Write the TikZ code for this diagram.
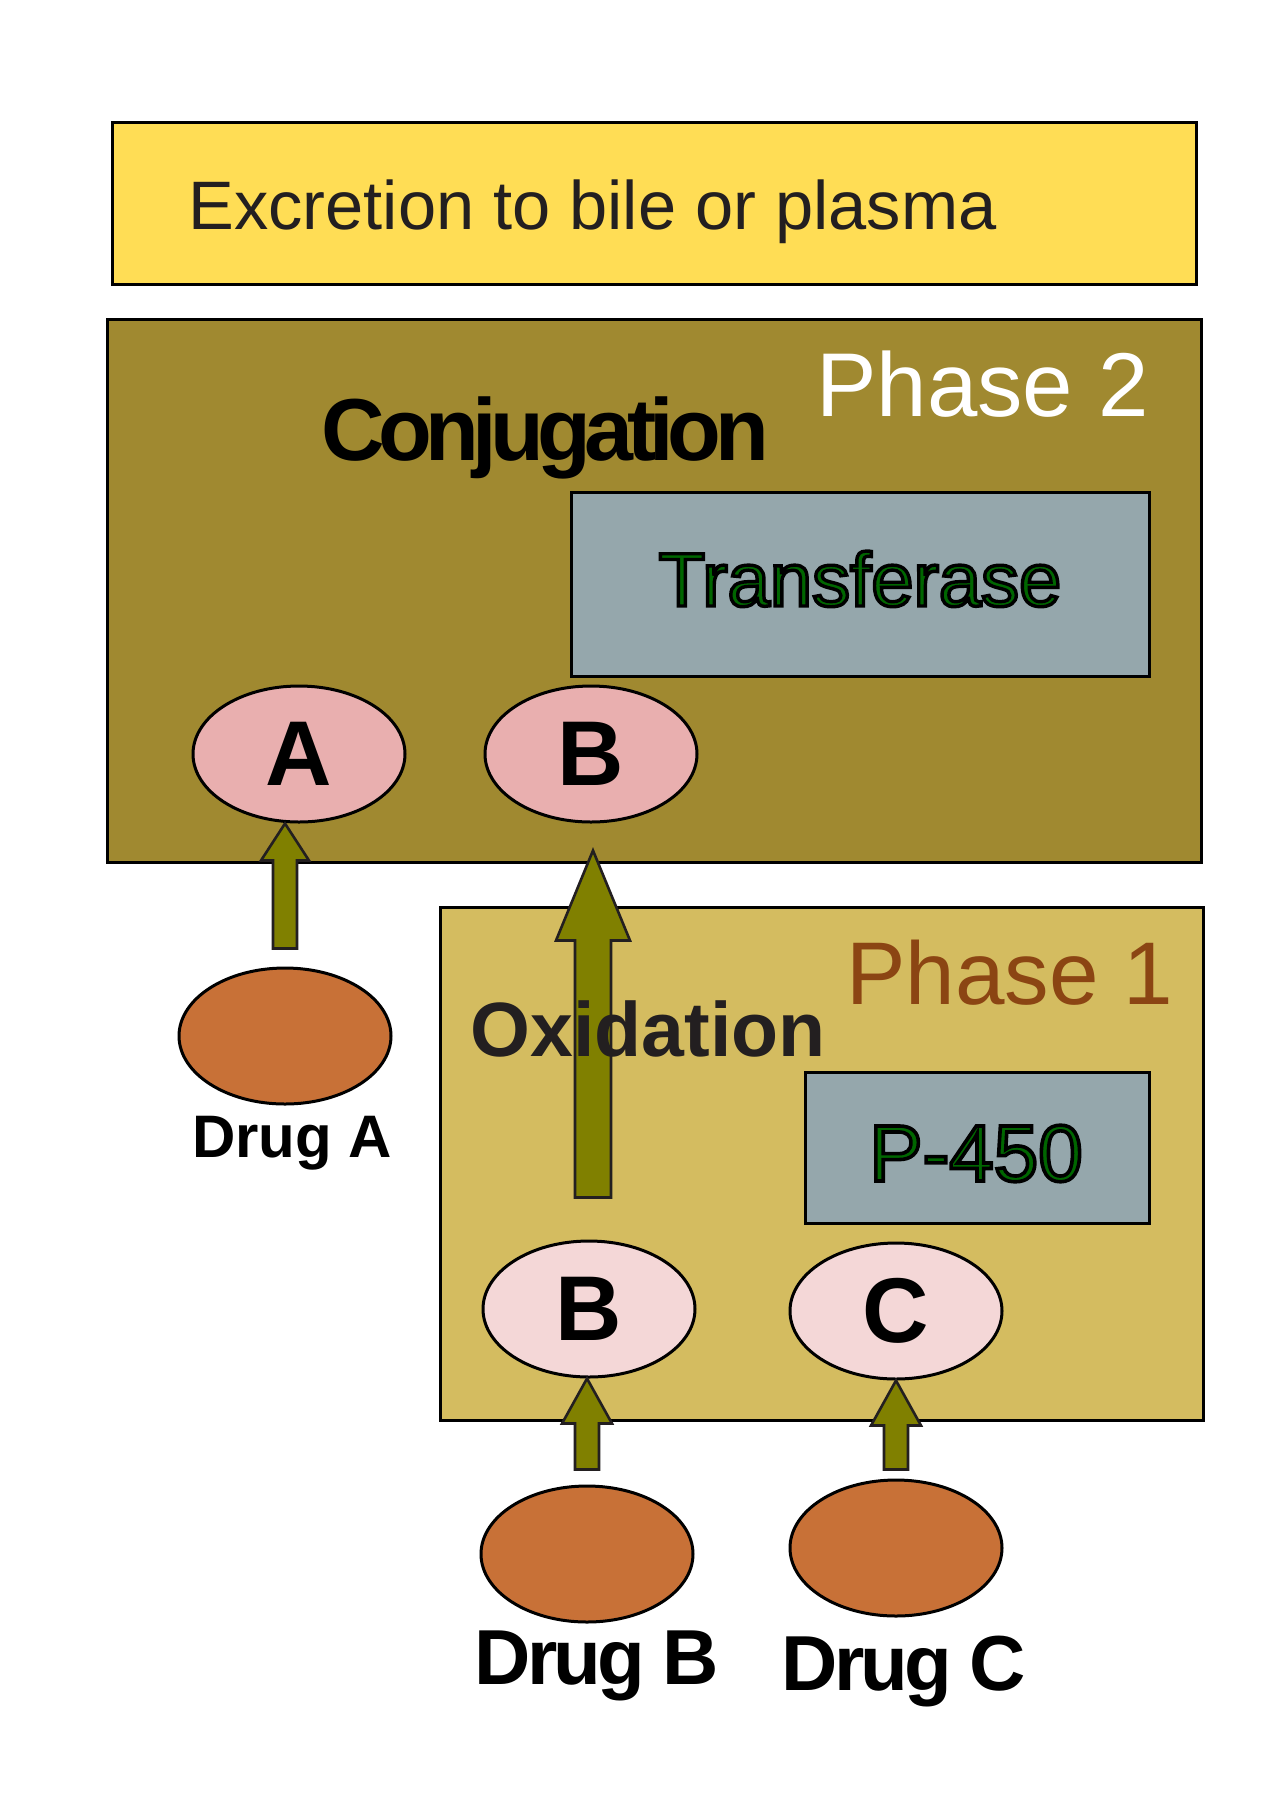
\documentclass[tikz,border=0pt]{standalone}
\usepackage{fontspec}
\setmainfont{Liberation Sans}
\newfontfamily\enzfont[FakeBold=4.5]{Liberation Sans}
\usetikzlibrary{shapes.geometric,calc}

\definecolor{excrfill}{RGB}{255,221,85}
\definecolor{phtwofill}{RGB}{160,137,48}
\definecolor{phonefill}{RGB}{212,188,96}
\definecolor{enzfill}{RGB}{149,167,172}
\definecolor{mettwofill}{RGB}{233,175,175}
\definecolor{metonefill}{RGB}{244,215,215}
\definecolor{drugfill}{RGB}{200,113,55}
\definecolor{arrfill}{RGB}{128,128,0}
\definecolor{darkline}{RGB}{35,31,32}
\definecolor{phonetext}{RGB}{139,69,19}

\newcommand{\outlined}[1]{\special{pdf:bcolor [0 0.4 0] [0 0 0]}#1\special{pdf:ecolor}}
\newcommand{\blockarrow}[5]{\draw[blockarr] ($(#1)+(-#3,0)$) -- ($(#1)+(#3,0)$) -- ($(#2)+(#3,#5)$) -- ($(#2)+(#4,#5)$) -- (#2) -- ($(#2)+(-#4,#5)$) -- ($(#2)+(-#3,#5)$) -- cycle;}

\tikzset{
  box/.style={draw=black,line width=1.5pt,rectangle,inner sep=0pt},
  enzbox/.style={box,fill=enzfill},
  lbl/.style={inner sep=0pt},
  molec/.style={ellipse,draw=black,line width=1.5pt,inner sep=0pt,minimum width=106pt,minimum height=68pt,font=\bfseries\fontsize{46}{50}\selectfont},
  drugmol/.style={molec,fill=drugfill},
  blockarr/.style={draw=darkline,fill=arrfill,line width=1.3pt},
}

\begin{document}
\begin{tikzpicture}[x=0.5pt,y=-0.5pt]
\useasboundingbox (0,0) rectangle (1280,1811);
\node[box,fill=excrfill,minimum width=542pt,minimum height=81pt] (excr) at (654,203) {};
\node[lbl,anchor=base west,text=darkline,font=\fontsize{34.3}{40}\selectfont] (excrtxt) at (188,229) {Excretion to bile or plasma};

% phase 2
\node[box,fill=phtwofill,minimum width=547pt,minimum height=271.5pt] (ph2) at (654,590.5) {};
\node[lbl,anchor=base west,text=white,font=\fontsize{45.3}{50}\selectfont] (ph2txt) at (816,416) {Phase 2};
\node[lbl,anchor=base west,font=\bfseries\fontsize{44}{50}\selectfont\addfontfeature{LetterSpace=-7.5}] (conj) at (321,460) {Conjugation};
\node[enzbox,minimum width=289pt,minimum height=92pt] (trans) at (860,584) {};
\node[lbl,anchor=base,font=\enzfont\fontsize{38}{44}\selectfont] (transtxt) at (860,606) {\outlined{Transferase}};
\node[molec,fill=mettwofill] (mA) at (299,754) {A};
\node[molec,fill=mettwofill] (mB2) at (591,754) {B};

% phase 1
\node[box,fill=phonefill,minimum width=381.5pt,minimum height=256.5pt] (ph1) at (821.5,1163.5) {};
\node[lbl,anchor=base west,text=phonetext,font=\fontsize{44.5}{50}\selectfont] (ph1txt) at (846,1004) {Phase 1};
\node[enzbox,minimum width=172pt,minimum height=75.5pt] (p450) at (977,1147.5) {};
\node[lbl,anchor=base,font=\enzfont\fontsize{40}{46}\selectfont] (p450txt) at (976,1181) {\outlined{P-450}};
\node[molec,fill=metonefill] (mB1) at (589,1309) {B};
\node[molec,fill=metonefill] (mC1) at (896,1311) {C};

% drugs
\node[drugmol] (drA) at (285,1036) {};
\node[drugmol] (drB) at (587,1554) {};
\node[drugmol] (drC) at (896,1548) {};
\node[lbl,anchor=base,font=\bfseries\fontsize{30}{36}\selectfont] (drAtxt) at (292,1157) {Drug A};
\node[lbl,anchor=base,font=\bfseries\fontsize{39}{46}\selectfont\addfontfeature{LetterSpace=-5}] (drBtxt) at (597,1684) {Drug B};
\node[lbl,anchor=base,font=\bfseries\fontsize{39}{46}\selectfont\addfontfeature{LetterSpace=-5}] (drCtxt) at (904,1690) {Drug C};

% arrows
\coordinate (aAtail) at ($(drA.north)+(0,-18)$);
\coordinate (aAtip) at (mA.south -| drA);
\coordinate (aB1tail) at ($(drB.north)+(0,-15)$);
\coordinate (aB1tip) at (mB1.south -| drB);
\coordinate (aCtail) at ($(drC.north)+(0,-9)$);
\coordinate (aCtip) at (mC1.south -| drC);
\coordinate (aB2tail) at ($(mB1.north)+(4,-42)$);
\coordinate (aB2tip) at ($(mB2.south)+(2,27)$);
\blockarrow{aAtail}{aAtip}{12}{24}{37}
\blockarrow{aB1tail}{aB1tip}{12}{25}{45}
\blockarrow{aCtail}{aCtip}{12}{25}{45}
\blockarrow{aB2tail}{aB2tip}{18}{37}{90}
\node[lbl,anchor=base west,text=darkline,font=\bfseries\fontsize{38.5}{44}\selectfont] (oxid) at (470,1056) {Oxidation};
\end{tikzpicture}
\end{document}
